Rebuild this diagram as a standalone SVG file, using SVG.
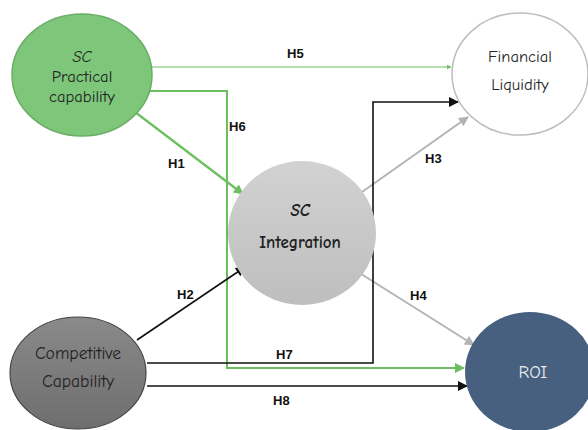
<svg xmlns="http://www.w3.org/2000/svg" width="588" height="430" viewBox="0 0 588 430">
<style>
.node{font-family:"Comic Neue","DejaVu Sans","Liberation Sans",sans-serif;font-size:16.5px;text-anchor:middle;fill:#222}
.lbl{font-family:"Liberation Sans",Arial,sans-serif;font-size:13px;font-weight:bold;fill:#111}
.g{stroke:#6cbf5f;fill:none}
.k{stroke:#111;fill:none;stroke-width:1.6}
.gr{stroke:#b4b4b4;fill:none;stroke-width:2}
</style>
<defs>
<linearGradient id="gInt" x1="0" y1="0" x2="0" y2="1"><stop offset="0" stop-color="#d2d2d2"/><stop offset="1" stop-color="#bebebe"/></linearGradient>
<linearGradient id="gCmp" x1="0" y1="0" x2="0" y2="1"><stop offset="0" stop-color="#8a8a8a"/><stop offset="1" stop-color="#6e6e6e"/></linearGradient>
<marker id="aG" viewBox="0 0 10 10" refX="9" refY="5" markerWidth="5" markerHeight="5" orient="auto" markerUnits="userSpaceOnUse"><path d="M0,0L10,5L0,10z" fill="#6cbf5f"/></marker>
<marker id="aGL" viewBox="0 0 10 10" refX="9" refY="5" markerWidth="12" markerHeight="10" orient="auto" markerUnits="userSpaceOnUse"><path d="M0,0L10,5L0,10z" fill="#6cbf5f"/></marker>
<marker id="aK" viewBox="0 0 10 10" refX="9" refY="5" markerWidth="12" markerHeight="10" orient="auto" markerUnits="userSpaceOnUse"><path d="M0,0L10,5L0,10z" fill="#111"/></marker>
<marker id="aGr" viewBox="0 0 10 10" refX="9" refY="5" markerWidth="12" markerHeight="10" orient="auto" markerUnits="userSpaceOnUse"><path d="M0,0L10,5L0,10z" fill="#b4b4b4"/></marker>
</defs>
<rect width="588" height="430" fill="#fff"/>
<g id="connectors">
<path class="g" d="M152,67H451" stroke-width="1" marker-end="url(#aG)"/>
<path class="g" d="M148,91H227V368H464" stroke-width="2" marker-end="url(#aGL)"/>
<path class="g" d="M135,112L243,194" stroke-width="2.2" marker-end="url(#aGL)"/>
<path class="k" d="M137,340L245,267" stroke-width="2" marker-end="url(#aK)"/>
<path class="gr" d="M362,192L468,117" marker-end="url(#aGr)"/>
<path class="gr" d="M358,272L474,345" marker-end="url(#aGr)"/>
<path class="k" d="M147,363H373V102H458" marker-end="url(#aK)"/>
<path class="k" d="M147,386H467" marker-end="url(#aK)"/>
</g>
<g id="SC_Practical">
<ellipse cx="82" cy="75" rx="70" ry="61" fill="#7dc67a" stroke="#6aae66" stroke-width="1.5"/>
<text class="node" x="82" y="62" font-style="italic">SC</text>
<text class="node" x="82" y="82">Practical</text>
<text class="node" x="82" y="102">capability</text>
</g>
<g id="Financial">
<ellipse cx="520" cy="74" rx="68" ry="61" fill="#fff" stroke="#bdbdbd" stroke-width="1.5"/>
<text class="node" x="520" y="62">Financial</text>
<text class="node" x="520" y="90">Liquidity</text>
</g>
<g id="SC_Integration">
<ellipse cx="302" cy="233" rx="74" ry="72" fill="url(#gInt)"/>
<text class="node" x="300" y="216" font-weight="bold" font-style="italic" style="font-size:17px">SC</text>
<text class="node" x="300" y="248" font-weight="bold" style="font-size:17px">Integration</text>
</g>
<g id="Competitive">
<ellipse cx="78" cy="373" rx="68" ry="56" fill="url(#gCmp)" stroke="#444" stroke-width="1.2"/>
<text class="node" x="78" y="359" style="font-size:17.5px">Competitive</text>
<text class="node" x="78" y="387" style="font-size:17.5px">Capability</text>
</g>
<g id="ROI">
<ellipse cx="530" cy="372" rx="65" ry="60" fill="#48607f"/>
<text class="node" x="533" y="378" style="fill:#e8ecf2;font-size:18px">ROI</text>
</g>
<g id="labels">
<text class="lbl" x="287" y="58">H5</text>
<text class="lbl" x="229" y="131">H6</text>
<text class="lbl" x="168" y="168">H1</text>
<text class="lbl" x="425" y="163">H3</text>
<text class="lbl" x="177" y="299">H2</text>
<text class="lbl" x="410" y="300">H4</text>
<text class="lbl" x="276" y="359">H7</text>
<text class="lbl" x="273" y="405">H8</text>
</g>
</svg>
